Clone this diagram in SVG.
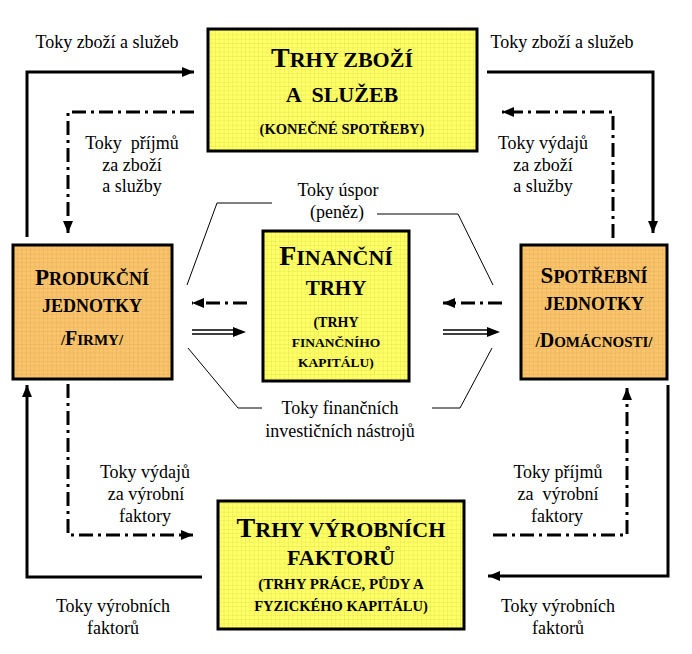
<svg xmlns="http://www.w3.org/2000/svg" width="692" height="654" viewBox="0 0 692 654">
<style>
text{font-family:"Liberation Serif",Tinos,"Times New Roman",Times,"Nimbus Roman","Nimbus Roman No9 L",FreeSerif,"Noto Serif","DejaVu Serif",Georgia,serif}
.lbl{font-size:18px;fill:#000;text-anchor:middle}
.tt{font-weight:bold;fill:#000;text-anchor:middle}
.box{stroke:#000;stroke-width:3}
.sol{fill:none;stroke:#000;stroke-width:3}
.dd{fill:none;stroke:#000;stroke-width:3;stroke-dasharray:14 5 3 5}
.thin{fill:none;stroke:#000;stroke-width:1}
.dbl{fill:none;stroke:#000;stroke-width:1.5}
</style>
<defs>
<marker id="ah" markerUnits="userSpaceOnUse" markerWidth="12" markerHeight="10" refX="12" refY="5" orient="auto">
<path d="M0,0 L12,5 L0,10 z" fill="#000"/>
</marker>
<pattern id="gy" width="4.3" height="4.3" patternUnits="userSpaceOnUse">
<rect width="4.3" height="4.3" fill="#FFFF66"/>
<path d="M0,0.3 H4.3 M0.3,0 V4.3" stroke="#E6E650" stroke-width="0.6"/>
</pattern>
<pattern id="go" width="4.3" height="4.3" patternUnits="userSpaceOnUse">
<rect width="4.3" height="4.3" fill="#F9C46C"/>
<path d="M0,0.3 H4.3 M0.3,0 V4.3" stroke="#E8AE5A" stroke-width="0.6"/>
</pattern>
</defs>
<rect width="692" height="654" fill="#fff"/>

<g id="connectors">
<path class="sol" d="M27,237 V72 H194" marker-end="url(#ah)"/>
<path class="dd" d="M194,112 H68 V233" marker-end="url(#ah)"/>
<path class="sol" d="M487,72 H653 V233" marker-end="url(#ah)"/>
<path class="dd" d="M613,238 V112 H502" marker-end="url(#ah)"/>
<path class="sol" d="M202,577 H27 V385" marker-end="url(#ah)"/>
<path class="dd" d="M68,384 V535 H193" marker-end="url(#ah)"/>
<path class="sol" d="M668,385 V576 H488" marker-end="url(#ah)"/>
<path class="dd" d="M493,535 H627 V388" marker-end="url(#ah)"/>
<path class="thin" d="M187,285 L217,203 H272"/>
<path class="thin" d="M377,214 H458 L493,285"/>
<path class="thin" d="M188,348 L238,408 H262"/>
<path class="thin" d="M432,408 H460 L492,348"/>
<path class="dd" d="M247,303 H192" marker-end="url(#ah)"/>
<path class="dd" d="M502,303 H443" marker-end="url(#ah)"/>
<path class="dbl" d="M192,330 H236 M192,334 H236"/>
<path d="M233,327 L246,332 L233,337 z" fill="#000"/>
<path class="dbl" d="M443,330 H489 M443,334 H489"/>
<path d="M487,327 L500,332 L487,337 z" fill="#000"/>
</g>

<g id="labels">
<text class="lbl" x="107" y="48">Toky zboží a služeb</text>
<text class="lbl" x="562" y="48">Toky zboží a služeb</text>
<text class="lbl" x="132" y="149" xml:space="preserve">Toky  příjmů</text>
<text class="lbl" x="132" y="171">za zboží</text>
<text class="lbl" x="132" y="192">a služby</text>
<text class="lbl" x="543" y="149">Toky výdajů</text>
<text class="lbl" x="543" y="171">za zboží</text>
<text class="lbl" x="543" y="192">a služby</text>
<text class="lbl" x="338" y="196">Toky úspor</text>
<text class="lbl" x="337" y="218">(peněz)</text>
<text class="lbl" x="340" y="414">Toky finančních</text>
<text class="lbl" x="340" y="437">investičních nástrojů</text>
<text class="lbl" x="145" y="478">Toky výdajů</text>
<text class="lbl" x="146" y="500">za výrobní</text>
<text class="lbl" x="145" y="522">faktory</text>
<text class="lbl" x="558" y="478">Toky příjmů</text>
<text class="lbl" x="558" y="500" xml:space="preserve">za  výrobní</text>
<text class="lbl" x="557" y="522">faktory</text>
<text class="lbl" x="113" y="612">Toky výrobních</text>
<text class="lbl" x="113" y="634">faktorů</text>
<text class="lbl" x="558" y="612">Toky výrobních</text>
<text class="lbl" x="558" y="634">faktorů</text>
</g>

<g id="node-trhy-zbozi">
<rect class="box" x="208" y="29" width="269" height="122" fill="url(#gy)"/>
<text class="tt" x="342" y="67" font-size="22"><tspan font-size="28">T</tspan>RHY ZBOŽÍ</text>
<text class="tt" x="342" y="102" font-size="22" xml:space="preserve">A  SLUŽEB</text>
<text class="tt" x="342" y="134" font-size="14.5">(KONEČNÉ SPOTŘEBY)</text>
</g>

<g id="node-produkcni">
<rect class="box" x="13" y="245" width="159" height="134" fill="url(#go)"/>
<text class="tt" x="92" y="285" font-size="18"><tspan font-size="23">P</tspan>RODUKČNÍ</text>
<text class="tt" x="92" y="312" font-size="18">JEDNOTKY</text>
<text class="tt" x="92" y="345" font-size="15">/<tspan font-size="20">F</tspan>IRMY/</text>
</g>

<g id="node-spotrebni">
<rect class="box" x="521" y="245" width="146" height="134" fill="url(#go)"/>
<text class="tt" x="594" y="283" font-size="18"><tspan font-size="23">S</tspan>POTŘEBNÍ</text>
<text class="tt" x="594" y="310" font-size="18">JEDNOTKY</text>
<text class="tt" x="594" y="347" font-size="15">/<tspan font-size="20">D</tspan>OMÁCNOSTI/</text>
</g>

<g id="node-financni">
<rect class="box" x="263" y="231" width="146" height="150" fill="url(#gy)"/>
<text class="tt" x="336" y="265" font-size="22"><tspan font-size="28">F</tspan>INANČNÍ</text>
<text class="tt" x="336" y="295" font-size="21">TRHY</text>
<text class="tt" x="336" y="327" font-size="14">(TRHY</text>
<text class="tt" x="336" y="347" font-size="13.5">FINANČNÍHO</text>
<text class="tt" x="336" y="367" font-size="13.5">KAPITÁLU)</text>
</g>

<g id="node-vyrobni">
<rect class="box" x="218" y="501" width="246" height="128" fill="url(#gy)"/>
<text class="tt" x="341" y="537" font-size="22"><tspan font-size="28">T</tspan>RHY VÝROBNÍCH</text>
<text class="tt" x="341" y="565" font-size="22">FAKTORŮ</text>
<text class="tt" x="341" y="589" font-size="15">(TRHY PRÁCE, PŮDY A</text>
<text class="tt" x="341" y="611" font-size="14.5">FYZICKÉHO KAPITÁLU)</text>
</g>
</svg>
